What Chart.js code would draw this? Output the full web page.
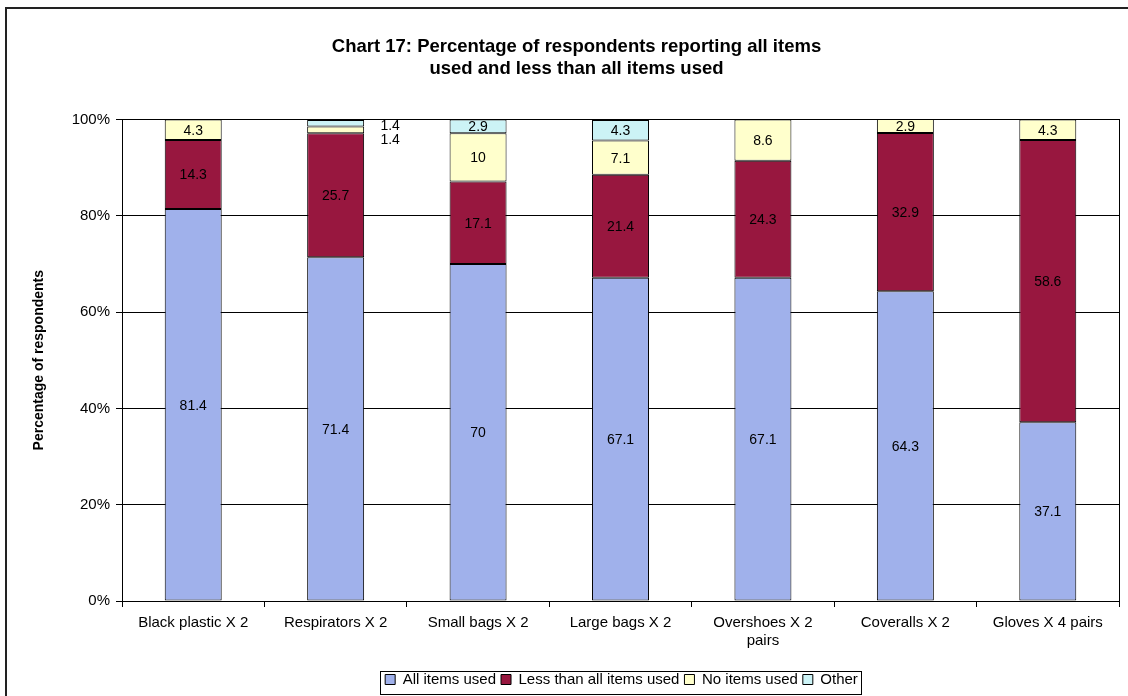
<!DOCTYPE html>
<html>
<head>
<meta charset="utf-8">
<script src="https://cdn.jsdelivr.net/npm/chart.js@4/dist/chart.umd.min.js"></script>
<style>
html,body{margin:0;padding:0;background:#fff;}
#wrap{width:1128px;height:696px;position:relative;}
</style>
</head>
<body>
<div id="wrap"><canvas id="c" width="1128" height="696"></canvas></div>
<script>
const categories = ['Black plastic X 2', 'Respirators X 2', 'Small bags X 2', 'Large bags X 2', ['Overshoes X 2', 'pairs'], 'Coveralls X 2', 'Gloves X 4 pairs'];
const allItemsUsed = [81.4, 71.4, 70, 67.1, 67.1, 64.3, 37.1];
const lessThanAll = [14.3, 25.7, 17.1, 21.4, 24.3, 32.9, 58.6];
const noItemsUsed = [4.3, 1.4, 10, 7.1, 8.6, 2.9, 4.3];
const other = [0, 1.4, 2.9, 4.3, 0, 0, 0];
const seriesNames = ['All items used', 'Less than all items used', 'No items used', 'Other'];
const yTicks = [0, 20, 40, 60, 80, 100];

const FONT = '"Liberation Sans", Arial, sans-serif';

function shiftBox(box, dx, dy) {
  box.left += dx; box.right += dx;
  box.top += dy; box.bottom += dy;
}

const frame = {
  id: 'frame',
  afterLayout(chart) {
    const t = chart.titleBlock;
    if (t) shiftBox(t, 17, 2);
    const lg = chart.legend;
    if (lg) {
      shiftBox(lg, 62, 3);
      if (lg.legendHitBoxes) lg.legendHitBoxes.forEach(h => { h.left += 62; h.top += 3; });
    }
  },
  beforeDraw(chart) {
    const ctx = chart.ctx;
    ctx.save();
    ctx.fillStyle = '#fff';
    ctx.fillRect(0, 0, chart.width, chart.height);
    ctx.strokeStyle = '#222';
    ctx.lineWidth = 2;
    ctx.strokeRect(6, 8, chart.width + 10, chart.height + 10);
    ctx.restore();
  },
  afterDraw(chart) {
    const ctx = chart.ctx;
    const a = chart.chartArea;
    ctx.save();
    ctx.strokeStyle = '#000';
    ctx.lineWidth = 1;
    ctx.strokeRect(Math.round(a.left) + 0.5, Math.round(a.top) + 0.5, Math.round(a.right - a.left), Math.round(a.bottom - a.top));
    const lg = chart.legend;
    if (lg && lg.legendHitBoxes && lg.legendHitBoxes.length) {
      let l = Infinity, r = -Infinity, t = Infinity, b = -Infinity;
      lg.legendHitBoxes.forEach(h => {
        l = Math.min(l, h.left); r = Math.max(r, h.left + h.width);
        t = Math.min(t, h.top); b = Math.max(b, h.top + h.height);
      });
      ctx.strokeRect(Math.round(l - 5) + 0.5, Math.round(t - 4) + 0.5, Math.round(r - l + 8), Math.round(b - t + 8));
    }
    ctx.restore();
  }
};

const dataLabels = {
  id: 'dataLabels',
  afterDatasetsDraw(chart) {
    const ctx = chart.ctx;
    ctx.save();
    ctx.font = '14px ' + FONT;
    ctx.fillStyle = '#000';
    ctx.textAlign = 'center';
    ctx.textBaseline = 'middle';
    const n = chart.data.labels.length;
    for (let i = 0; i < n; i++) {
      let lastOutsideY = -Infinity;
      for (let d = chart.data.datasets.length - 1; d >= 0; d--) {
        const v = chart.data.datasets[d].data[i];
        if (!v) continue;
        const el = chart.getDatasetMeta(d).data[i];
        const h = Math.abs(el.base - el.y);
        const cy = (el.y + el.base) / 2;
        if (h < 12) {
          const y = Math.max(cy + 3, lastOutsideY + 14);
          lastOutsideY = y;
          ctx.fillText(String(v), el.x + el.width / 2 + 26, y);
        } else {
          ctx.fillText(String(v), el.x, cy + 1);
        }
      }
    }
    ctx.restore();
  }
};

const colors = ['#A0B1EB', '#98173F', '#FFFFCC', '#CCF3F6'];
const seriesData = [allItemsUsed, lessThanAll, noItemsUsed, other];

new Chart(document.getElementById('c'), {
  type: 'bar',
  data: {
    labels: categories,
    datasets: seriesData.map((arr, k) => ({
      label: seriesNames[k],
      data: arr,
      backgroundColor: colors[k],
      borderColor: '#000',
      borderWidth: 1,
      borderSkipped: false,
      categoryPercentage: 1,
      barPercentage: 0.4
    }))
  },
  plugins: [frame, dataLabels],
  options: {
    responsive: false,
    animation: false,
    devicePixelRatio: 1,
    layout: { padding: { left: 0, right: 9, top: 0, bottom: 2 } },
    plugins: {
      title: {
        display: true,
        text: ['Chart 17: Percentage of respondents reporting all items', 'used and less than all items used'],
        font: { family: FONT, size: 18.5, weight: 'bold', lineHeight: 1.2 },
        color: '#000',
        padding: { top: 34, bottom: 41 }
      },
      legend: {
        display: true,
        position: 'bottom',
        labels: {
          font: { family: FONT, size: 15 },
          color: '#000',
          boxWidth: 10,
          boxHeight: 10,
          padding: 5
        }
      },
      tooltip: { enabled: false }
    },
    scales: {
      x: {
        stacked: true,
        grid: { display: true, drawOnChartArea: false, drawTicks: true, tickLength: 6, color: '#000', offset: true },
        border: { display: true, color: '#000', width: 1 },
        ticks: { font: { family: FONT, size: 15, lineHeight: 1.2 }, color: '#000', padding: 7, maxRotation: 0, autoSkip: false },
        afterFit(s) { s.height = 63; }
      },
      y: {
        stacked: true,
        min: 0,
        max: 100,
        afterBuildTicks(s) { s.ticks = yTicks.map(v => ({ value: v })); },
        grid: { color: '#000', tickLength: 6, drawTicks: true },
        border: { display: true, color: '#000', width: 1 },
        ticks: { font: { family: FONT, size: 15 }, color: '#000', padding: 6, callback: v => v + '%' },
        title: {
          display: true,
          text: 'Percentage of respondents',
          font: { family: FONT, size: 14, weight: 'bold' },
          color: '#000',
          padding: { top: 31, bottom: 0 }
        },
        afterFit(s) { s.width = 122; }
      }
    }
  }
});
</script>
</body>
</html>
